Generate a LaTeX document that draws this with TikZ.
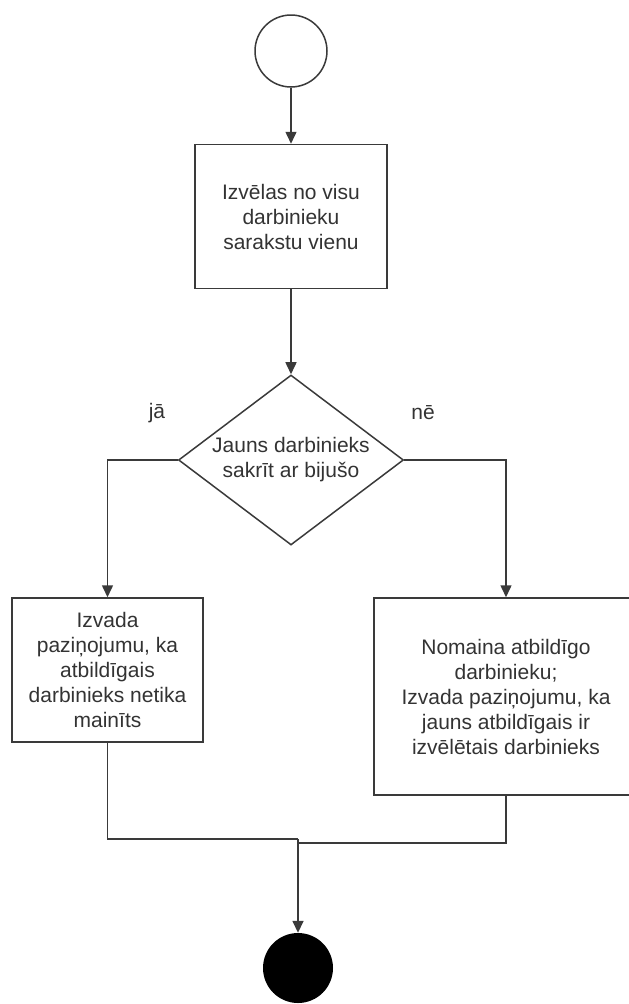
\documentclass[tikz,border=0pt]{standalone}
\usepackage{fontspec}
\setmainfont{Liberation Sans}
\usetikzlibrary{positioning,shapes.geometric,arrows.meta}

\definecolor{linegray}{HTML}{3A3A3A}
\definecolor{textgray}{HTML}{333333}

\tikzset{
  flowtext/.style={font=\fontsize{21pt}{25pt}\selectfont, text=textgray, align=center},
  stepbox/.style={draw=linegray, line width=1.5pt, rectangle, inner sep=0pt, flowtext},
  choicebox/.style={draw=linegray, line width=1.5pt, diamond, inner sep=0pt, flowtext,
    shape aspect=1.32, minimum width=225pt, minimum height=170pt},
  flow/.style={draw=linegray, line width=1.5pt, -{Triangle[width=11pt,length=12pt]}},
  joinline/.style={draw=linegray, line width=1.5pt}
}

\begin{document}
\begin{tikzpicture}[node distance=56pt]

        \useasboundingbox (0,0) rectangle (629pt,-1004pt);

        % Start and first step
        \node[circle, draw=linegray, line width=1.5pt, minimum size=72pt] (start) at (291pt,-51pt) {};
        \node[stepbox, minimum width=192pt, minimum height=144pt] (choose) [below=of start]
          {Izvēlas no visu\\darbinieku\\sarakstu vienu};

        % Decision
        \node[choicebox] (check) [below=85pt of choose] {Jauns darbinieks\\sakrīt ar bijušo};
        \node[flowtext] (yes) at (157pt,-413pt) {jā};
        \node[flowtext] (no) at (423pt,-413pt) {nē};

        % Branches
        \node[stepbox, minimum width=191pt, minimum height=144pt] (keep) at (107.5pt,-670pt)
          {Izvada\\paziņojumu, ka\\atbildīgais\\darbinieks netika\\mainīts};
        \node[stepbox, minimum width=264pt, minimum height=197pt] (change) at (506pt,-696.5pt)
          {Nomaina atbildīgo\\darbinieku;\\Izvada paziņojumu, ka\\jauns atbildīgais ir\\izvēlētais darbinieks};

        % End
        \node[circle, fill=black, minimum size=70pt] (end) at (298pt,-968pt) {};

        % Arrows
        \draw[flow] (start) -- (choose);
        \draw[flow] (choose) -- (check);
        \draw[flow] (check.west) -| (keep.north);
        \draw[flow] (check.east) -| (change.north);

        % Merge
        \coordinate (joinL) at (298pt,-839pt);
        \coordinate (joinR) at (298pt,-843pt);
        \draw[joinline] (keep.south) |- (joinL);
        \draw[joinline] (change.south) |- (joinR);
        \draw[flow] (joinL) -- (end);

        \end{tikzpicture}
\end{document}
